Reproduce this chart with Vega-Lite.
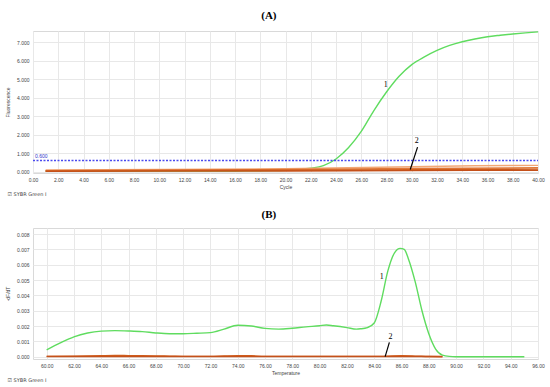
{
  "$schema": "https://vega.github.io/schema/vega-lite/v6.json",
  "padding": {"left": 4, "top": 9, "right": 10, "bottom": 0},
  "background": "white",
  "spacing": 10,
  "config": {
    "font": "Liberation Sans",
    "view": {"stroke": "#d9d9d9"},
    "axis": {
      "labelFontSize": 5,
      "labelColor": "#444444",
      "titleFontSize": 5,
      "titleFontWeight": "normal",
      "titleColor": "#444444",
      "gridColor": "#e8e8e8",
      "domain": false,
      "ticks": false,
      "labelPadding": 4,
      "labelOverlap": false,
      "tickCount": 100
    },
    "title": {"font": "Liberation Serif", "fontSize": 11, "fontWeight": "bold", "color": "#000000"}
  },
  "datasets": {
    "amp": [
      {"c": 1, "f": 0.02, "s": "G"}, {"c": 4, "f": 0.02, "s": "G"}, {"c": 8, "f": 0.02, "s": "G"}, {"c": 12, "f": 0.02, "s": "G"},
      {"c": 16, "f": 0.03, "s": "G"}, {"c": 18, "f": 0.04, "s": "G"}, {"c": 19, "f": 0.05, "s": "G"}, {"c": 20, "f": 0.07, "s": "G"},
      {"c": 21, "f": 0.11, "s": "G"}, {"c": 22, "f": 0.18, "s": "G"}, {"c": 23, "f": 0.32, "s": "G"}, {"c": 24, "f": 0.68, "s": "G"},
      {"c": 25, "f": 1.3, "s": "G"}, {"c": 26, "f": 2.17, "s": "G"}, {"c": 27, "f": 3.3, "s": "G"}, {"c": 28, "f": 4.3, "s": "G"},
      {"c": 29, "f": 5.15, "s": "G"}, {"c": 30, "f": 5.78, "s": "G"}, {"c": 31, "f": 6.2, "s": "G"}, {"c": 32, "f": 6.55, "s": "G"},
      {"c": 33, "f": 6.82, "s": "G"}, {"c": 34, "f": 7.02, "s": "G"}, {"c": 35, "f": 7.17, "s": "G"}, {"c": 36, "f": 7.29, "s": "G"},
      {"c": 37, "f": 7.37, "s": "G"}, {"c": 38, "f": 7.44, "s": "G"}, {"c": 39, "f": 7.5, "s": "G"}, {"c": 40, "f": 7.55, "s": "G"},
      {"c": 1, "f": 0.08, "s": "O1"}, {"c": 10, "f": 0.11, "s": "O1"}, {"c": 20, "f": 0.15, "s": "O1"}, {"c": 25, "f": 0.2, "s": "O1"},
      {"c": 30, "f": 0.26, "s": "O1"}, {"c": 35, "f": 0.31, "s": "O1"}, {"c": 40, "f": 0.33, "s": "O1"},
      {"c": 1, "f": 0.05, "s": "O2"}, {"c": 10, "f": 0.08, "s": "O2"}, {"c": 20, "f": 0.11, "s": "O2"}, {"c": 30, "f": 0.16, "s": "O2"}, {"c": 40, "f": 0.2, "s": "O2"},
      {"c": 1, "f": 0.03, "s": "O3"}, {"c": 10, "f": 0.05, "s": "O3"}, {"c": 20, "f": 0.07, "s": "O3"}, {"c": 30, "f": 0.1, "s": "O3"}, {"c": 40, "f": 0.13, "s": "O3"},
      {"c": 1, "f": 0.01, "s": "O4"}, {"c": 10, "f": 0.02, "s": "O4"}, {"c": 20, "f": 0.03, "s": "O4"}, {"c": 30, "f": 0.05, "s": "O4"}, {"c": 40, "f": 0.07, "s": "O4"}
    ],
    "thrA": [{"c0": 0, "c1": 40, "f": 0.6, "lab": "0.600"}],
    "labA": [{"c": 27.95, "f": 4.67, "t": "1"}, {"c": 30.4, "f": 1.63, "t": "2"}],
    "ptrA": [{"c1": 30.46, "f1": 1.32, "c2": 29.88, "f2": 0.11}],
    "melt": [
      {"t": 60, "d": 0.00044, "s": "G"}, {"t": 61, "d": 0.0009, "s": "G"}, {"t": 62, "d": 0.0013, "s": "G"}, {"t": 63, "d": 0.00155, "s": "G"},
      {"t": 64, "d": 0.00167, "s": "G"}, {"t": 65, "d": 0.0017, "s": "G"}, {"t": 66, "d": 0.00168, "s": "G"}, {"t": 67, "d": 0.00164, "s": "G"},
      {"t": 68, "d": 0.00155, "s": "G"}, {"t": 69, "d": 0.0015, "s": "G"}, {"t": 70, "d": 0.0015, "s": "G"}, {"t": 71, "d": 0.00153, "s": "G"},
      {"t": 72, "d": 0.00157, "s": "G"}, {"t": 73, "d": 0.0018, "s": "G"}, {"t": 74, "d": 0.00205, "s": "G"}, {"t": 75, "d": 0.002, "s": "G"},
      {"t": 76, "d": 0.00185, "s": "G"}, {"t": 77, "d": 0.0018, "s": "G"}, {"t": 78, "d": 0.00186, "s": "G"}, {"t": 79, "d": 0.00195, "s": "G"},
      {"t": 80, "d": 0.00202, "s": "G"}, {"t": 80.5, "d": 0.00207, "s": "G"}, {"t": 81, "d": 0.00202, "s": "G"}, {"t": 82, "d": 0.0019, "s": "G"},
      {"t": 82.7, "d": 0.0018, "s": "G"}, {"t": 83, "d": 0.00182, "s": "G"}, {"t": 83.5, "d": 0.0019, "s": "G"}, {"t": 84, "d": 0.0022, "s": "G"},
      {"t": 84.5, "d": 0.0036, "s": "G"}, {"t": 85, "d": 0.0056, "s": "G"}, {"t": 85.5, "d": 0.0068, "s": "G"}, {"t": 85.9, "d": 0.00707, "s": "G"},
      {"t": 86.2, "d": 0.007, "s": "G"}, {"t": 86.5, "d": 0.0064, "s": "G"}, {"t": 87, "d": 0.0049, "s": "G"}, {"t": 87.5, "d": 0.003, "s": "G"},
      {"t": 88, "d": 0.0015, "s": "G"}, {"t": 88.5, "d": 0.0005, "s": "G"}, {"t": 89, "d": 0.0001, "s": "G"}, {"t": 89.5, "d": 0.00002, "s": "G"},
      {"t": 90, "d": 0, "s": "G"}, {"t": 92, "d": 0, "s": "G"}, {"t": 94, "d": 0, "s": "G"}, {"t": 95, "d": 0, "s": "G"},
      {"t": 60, "d": 0.00002, "s": "O3"}, {"t": 62, "d": 0.00004, "s": "O3"}, {"t": 64, "d": 0.00007, "s": "O3"}, {"t": 65, "d": 0.00008, "s": "O3"},
      {"t": 66, "d": 0.00007, "s": "O3"}, {"t": 68, "d": 0.00005, "s": "O3"}, {"t": 69, "d": 0.00004, "s": "O3"}, {"t": 70, "d": 0.00002, "s": "O3"},
      {"t": 72, "d": 0.00002, "s": "O3"}, {"t": 73, "d": 0.00005, "s": "O3"}, {"t": 74, "d": 0.00007, "s": "O3"}, {"t": 75, "d": 0.00006, "s": "O3"},
      {"t": 76, "d": 0.00002, "s": "O3"}, {"t": 80, "d": 0.00002, "s": "O3"}, {"t": 84, "d": 0.00002, "s": "O3"}, {"t": 86, "d": 0.00006, "s": "O3"},
      {"t": 87, "d": 0.00004, "s": "O3"}, {"t": 88, "d": 0.00001, "s": "O3"}, {"t": 89, "d": 0, "s": "O3"},
      {"t": 60, "d": 0.00001, "s": "O4"}, {"t": 70, "d": 0.00001, "s": "O4"}, {"t": 80, "d": 0.00001, "s": "O4"}, {"t": 89, "d": 0.00001, "s": "O4"}
    ],
    "labB": [{"t": 84.56, "d": 0.0052, "x": "1"}, {"t": 85.2, "d": 0.00131, "x": "2"}],
    "ptrB": [{"t1": 85.11, "d1": 0.00094, "t2": 84.8, "d2": 0.0}]
  },
  "vconcat": [
    {
      "title": {"text": "(A)", "anchor": "middle", "dx": -6, "offset": 8},
      "vconcat": [
        {
          "width": 505,
          "height": 142,
          "title": {"text": "☑ SYBR Green I", "orient": "bottom", "anchor": "start", "frame": "bounds", "font": "DejaVu Sans", "fontSize": 5, "fontWeight": "normal", "color": "#444444", "offset": 3, "dx": 2},
          "layer": [
            {
              "data": {"name": "amp"},
              "mark": {"type": "line", "interpolate": "monotone", "strokeWidth": 1.4},
              "encoding": {
                "x": {"field": "c", "type": "quantitative", "title": "Cycle", "scale": {"domain": [0, 40], "nice": false, "zero": false},
                      "axis": {"values": [0, 2, 4, 6, 8, 10, 12, 14, 16, 18, 20, 22, 24, 26, 28, 30, 32, 34, 36, 38, 40], "tickCount": 100, "format": ".2f", "titlePadding": 2, "labelOverlap": false, "labelFlush": false}},
                "y": {"field": "f", "type": "quantitative", "title": "Fluorescence", "scale": {"domain": [-0.08, 7.6], "nice": false, "zero": false},
                      "axis": {"values": [0, 1, 2, 3, 4, 5, 6, 7], "tickCount": 100, "format": ".3f", "titlePadding": 6, "labelOverlap": false, "labelFlush": false}},
                "color": {"field": "s", "type": "nominal", "legend": null,
                          "scale": {"domain": ["G", "O1", "O2", "O3", "O4"], "range": ["#5fdc5f", "#f2a774", "#e0783a", "#d2601e", "#c4501a"]}},
                "order": {"field": "s", "sort": "descending"}
              }
            },
            {
              "data": {"name": "thrA"},
              "mark": {"type": "rule", "color": "#4a4aee", "strokeWidth": 1.4, "strokeDash": [2, 1.5]},
              "encoding": {"x": {"field": "c0", "type": "quantitative"}, "x2": {"field": "c1"}, "y": {"field": "f", "type": "quantitative"}}
            },
            {
              "data": {"name": "thrA"},
              "mark": {"type": "text", "align": "left", "baseline": "bottom", "dx": 2, "dy": -1, "fontSize": 5, "fill": "#3333cc"},
              "encoding": {"x": {"field": "c0", "type": "quantitative"}, "y": {"field": "f", "type": "quantitative"}, "text": {"field": "lab"}}
            },
            {
              "data": {"name": "labA"},
              "mark": {"type": "text", "font": "Liberation Serif", "fontSize": 8, "fill": "#000000"},
              "encoding": {"x": {"field": "c", "type": "quantitative"}, "y": {"field": "f", "type": "quantitative"}, "text": {"field": "t"}}
            },
            {
              "data": {"name": "ptrA"},
              "mark": {"type": "rule", "color": "#000000", "strokeWidth": 1.2},
              "encoding": {"x": {"field": "c1", "type": "quantitative"}, "y": {"field": "f1", "type": "quantitative"}, "x2": {"field": "c2"}, "y2": {"field": "f2"}}
            }
          ]
        }
      ]
    },
    {
      "title": {"text": "(B)", "anchor": "middle", "dx": -6, "offset": 8},
      "vconcat": [
        {
          "width": 505,
          "height": 131,
          "title": {"text": "☑ SYBR Green I", "orient": "bottom", "anchor": "start", "frame": "bounds", "font": "DejaVu Sans", "fontSize": 5, "fontWeight": "normal", "color": "#444444", "offset": 3, "dx": 2},
          "layer": [
            {
              "data": {"name": "melt"},
              "mark": {"type": "line", "interpolate": "monotone", "strokeWidth": 1.4},
              "encoding": {
                "x": {"field": "t", "type": "quantitative", "title": "Temperature", "scale": {"domain": [59, 96], "nice": false, "zero": false},
                      "axis": {"values": [60, 62, 64, 66, 68, 70, 72, 74, 76, 78, 80, 82, 84, 86, 88, 90, 92, 94, 96], "tickCount": 100, "format": ".2f", "titlePadding": 2, "labelOverlap": false, "labelFlush": false}},
                "y": {"field": "d", "type": "quantitative", "title": "-dF/dT", "scale": {"domain": [-0.00015, 0.0084], "nice": false, "zero": false},
                      "axis": {"values": [0, 0.001, 0.002, 0.003, 0.004, 0.005, 0.006, 0.007, 0.008], "tickCount": 100, "format": ".3f", "titlePadding": 6, "labelOverlap": false, "labelFlush": false}},
                "color": {"field": "s", "type": "nominal", "legend": null,
                          "scale": {"domain": ["G", "O1", "O2", "O3", "O4"], "range": ["#5fdc5f", "#f2a774", "#e0783a", "#d2601e", "#c4501a"]}},
                "order": {"field": "s", "sort": "descending"}
              }
            },
            {
              "data": {"name": "labB"},
              "mark": {"type": "text", "font": "Liberation Serif", "fontSize": 8, "fill": "#000000"},
              "encoding": {"x": {"field": "t", "type": "quantitative"}, "y": {"field": "d", "type": "quantitative"}, "text": {"field": "x"}}
            },
            {
              "data": {"name": "ptrB"},
              "mark": {"type": "rule", "color": "#000000", "strokeWidth": 1.2},
              "encoding": {"x": {"field": "t1", "type": "quantitative"}, "y": {"field": "d1", "type": "quantitative"}, "x2": {"field": "t2"}, "y2": {"field": "d2"}}
            }
          ]
        }
      ]
    }
  ]
}
